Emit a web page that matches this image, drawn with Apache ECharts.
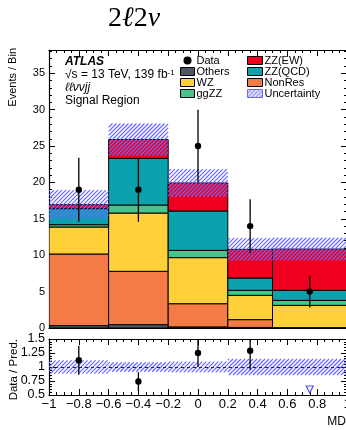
<!DOCTYPE html>
<html>
<head>
<meta charset="utf-8">
<script src="https://cdn.jsdelivr.net/npm/echarts@6/dist/echarts.min.js"></script>
<style>
  html, body { margin: 0; padding: 0; background: #fff; }
  #chart { width: 346px; height: 430px; }
</style>
</head>
<body>
<div id="chart"></div>
<script>
// Bin edges of the MD distribution
const binEdges = [-1, -0.6, -0.2, 0.2, 0.5, 1];

// Expected yields per bin, stacked bottom to top
const others  = [0.33, 0.46, 0.15, 0.08, 0.05];
const nonRes  = [9.84, 7.33, 3.19, 1.07, 0.00];
const wz      = [3.71, 8.01, 6.33, 3.34, 3.06];
const ggZZ    = [0.32, 1.10, 1.00, 0.69, 0.69];
const zzQCD   = [2.20, 6.40, 5.41, 1.69, 1.38];
const zzEW    = [0.55, 2.60, 3.85, 3.94, 5.67];

// Total prediction uncertainty (absolute, per bin)
const predUnc = [2.0, 2.2, 1.9, 1.55, 1.55];

// Observed data and its error
const dataCounts = [19, 19, 25, 14, 5];
const dataErr    = [4.4, 4.4, 5.0, 3.7, 2.2];

// Ratio panel: data / prediction, its error and the relative uncertainty band
const ratioVals = [1.12, 0.74, 1.25, 1.29, 0.46];
const ratioErr  = [0.26, 0.17, 0.25, 0.34, 0.20];
const ratioUnc  = [0.118, 0.085, 0.095, 0.143, 0.143];

const mainYMax = 38.2;
const ratioMin = 0.5, ratioMax = 1.5;

const SANS = "'Liberation Sans', Arial, Helvetica, sans-serif";
const SERIF = "'Liberation Serif', 'DejaVu Serif', 'Times New Roman', serif";
const HATCH_COLOR = '#6868ff';

// Small hatch tile, used for the legend swatch
function hatchPattern(color) {
  const s = 4;
  const c = document.createElement('canvas');
  c.width = s; c.height = s;
  const g = c.getContext('2d');
  g.strokeStyle = color;
  g.lineWidth = 1.2;
  g.beginPath();
  g.moveTo(0, s); g.lineTo(s, 0);
  g.moveTo(-1, 1); g.lineTo(1, -1);
  g.moveTo(s - 1, s + 1); g.lineTo(s + 1, s - 1);
  g.stroke();
  return { image: c, repeat: 'repeat' };
}
const hatchFill = hatchPattern(HATCH_COLOR);

const components = [
  { name: 'Others',  values: others, color: '#4f5567' },
  { name: 'NonRes',  values: nonRes, color: '#f47b45' },
  { name: 'WZ',      values: wz,     color: '#fed03a' },
  { name: 'ggZZ',    values: ggZZ,   color: '#46c48a' },
  { name: 'ZZ(QCD)', values: zzQCD,  color: '#0aa3ad' },
  { name: 'ZZ(EW)',  values: zzEW,   color: '#f0001e' }
];

// Filled bin rectangle: data item = [xLow, xHigh, yLow, yHigh]
function rectItem(fill, stroke, lw) {
  return function (params, api) {
    const p0 = api.coord([api.value(0), api.value(3)]);
    const p1 = api.coord([api.value(1), api.value(2)]);
    return {
      type: 'rect',
      shape: { x: p0[0], y: p0[1], width: p1[0] - p0[0], height: p1[1] - p0[1] },
      style: { fill: fill, stroke: stroke, lineWidth: lw }
    };
  };
}

// Hatched bin rectangle (diagonal "///" lines on a common grid), one path per bin
function hatchItem(color, step, lw) {
  return function (params, api) {
    const p0 = api.coord([api.value(0), api.value(3)]);
    const p1 = api.coord([api.value(1), api.value(2)]);
    const x0 = p0[0], y0 = p0[1], x1 = p1[0], y1 = p1[1];
    let d = '';
    for (let k = Math.ceil((x0 + y0) / step) * step; k <= x1 + y1; k += step) {
      const xa = Math.max(x0, k - y1), xb = Math.min(x1, k - y0);
      if (xb <= xa) continue;
      d += 'M' + xa.toFixed(2) + ',' + (k - xa).toFixed(2) + 'L' + xb.toFixed(2) + ',' + (k - xb).toFixed(2);
    }
    return {
      type: 'path',
      shape: { pathData: d || 'M0,0', layout: 'none' },
      style: { fill: 'none', stroke: color, lineWidth: lw, opacity: 1 }
    };
  };
}

// Stacked histogram
const totals = binEdges.slice(1).map(() => 0);
const stackSeries = components.map(comp => {
  const data = comp.values.map((v, i) => {
    const lo = totals[i];
    totals[i] += v;
    return [binEdges[i], binEdges[i + 1], lo, totals[i]];
  });
  return {
    type: 'custom', name: comp.name, xAxisIndex: 0, yAxisIndex: 0,
    clip: true, z: 2, encode: { x: [0, 1], y: [2, 3] },
    itemStyle: { color: comp.color },
    data: data, renderItem: rectItem(comp.color, '#000', 1)
  };
});

const centers = binEdges.slice(1).map((e, i) => (binEdges[i] + e) / 2);

const uncBand = totals.map((t, i) => [binEdges[i], binEdges[i + 1], t - predUnc[i], t + predUnc[i]]);
const ratioBand = ratioUnc.map((u, i) => [binEdges[i], binEdges[i + 1], 1 - u, 1 + u]);

// Data point with vertical error bar; below-range ratios become an open arrow
function pointItem(minVal) {
  return function (params, api) {
    const x = api.value(0), v = api.value(1), e = api.value(2);
    if (minVal !== null && v < minVal) {
      const b = api.coord([x, minVal]);
      return {
        type: 'polygon',
        shape: { points: [[b[0] - 3.5, b[1] - 9], [b[0] + 3.5, b[1] - 9], [b[0], b[1] - 2]] },
        style: { fill: '#fff', stroke: '#4d4dff', lineWidth: 1.2 }
      };
    }
    const c = api.coord([x, v]);
    const t = api.coord([x, v + e]);
    const b = api.coord([x, v - e]);
    return {
      type: 'group',
      children: [
        { type: 'line', shape: { x1: c[0], y1: t[1], x2: c[0], y2: b[1] }, style: { stroke: '#000', lineWidth: 1.3 } },
        { type: 'circle', shape: { cx: c[0], cy: c[1], r: 3.2 }, style: { fill: '#000' } }
      ]
    };
  };
}

function fmtX(v) {
  return String(+v.toFixed(2)).replace('-', '\u2212');
}

function xAxisDef(grid, pos, labels) {
  return {
    type: 'value', gridIndex: grid, position: pos, min: -1, max: 1, interval: 0.2,
    axisLine: { show: true, onZero: false, lineStyle: { color: '#000', width: 1.2 } },
    axisTick: { show: true, inside: true, length: 6, lineStyle: { color: '#000', width: 1 } },
    minorTick: { show: true, splitNumber: 4, length: 3, lineStyle: { color: '#000', width: 1 } },
    splitLine: { show: false }, minorSplitLine: { show: false },
    axisLabel: labels ? {
      show: true, color: '#000', fontFamily: SANS, fontSize: 13, margin: 3,
      showMinLabel: true, showMaxLabel: true, formatter: fmtX
    } : { show: false }
  };
}

function yAxisDef(grid, pos, min, max, interval, minorSplit, labelCfg) {
  return {
    type: 'value', gridIndex: grid, position: pos, min: min, max: max, interval: interval,
    axisLine: { show: true, onZero: false, lineStyle: { color: '#000', width: 1.2 } },
    axisTick: { show: true, inside: true, length: 6, lineStyle: { color: '#000', width: 1 } },
    minorTick: { show: true, splitNumber: minorSplit, length: 3, lineStyle: { color: '#000', width: 1 } },
    splitLine: { show: false }, minorSplitLine: { show: false },
    axisLabel: labelCfg || { show: false }
  };
}

const legendText = { fontFamily: SANS, fontSize: 11, color: '#000', lineHeight: 10.3, padding: [0, 0, 0, -3] };
function boxItem(name, fill, border) {
  return { name: name, icon: 'rect', itemStyle: { color: fill, borderColor: border || '#000', borderWidth: 1 } };
}

const option = {
  animation: false,
  backgroundColor: '#fff',
  title: {
    left: 108, top: 5, padding: 0,
    text: '{n|2}{i|\u2113}{n|2}{i|\u03bd}',
    textStyle: {
      fontWeight: 'normal',
      lineHeight: 28,
      rich: {
        n: { fontFamily: SERIF, fontSize: 28, fontWeight: 'normal', fontStyle: 'normal', color: '#000', lineHeight: 28 },
        i: { fontFamily: SERIF, fontSize: 28, fontWeight: 'normal', fontStyle: 'italic', color: '#000', lineHeight: 28 }
      }
    }
  },
  grid: [
    { left: 49, top: 50, width: 298, height: 278, containLabel: false, outerBoundsMode: 'none' },
    { left: 49, top: 339, width: 298, height: 56, containLabel: false, outerBoundsMode: 'none' }
  ],
  legend: [
    {
      left: 180, top: 55, padding: 0, orient: 'vertical', itemWidth: 14, itemHeight: 8, itemGap: 0,
      selectedMode: false, textStyle: legendText,
      data: [
        { name: 'Data', icon: 'circle', itemStyle: { color: '#000', borderWidth: 0 } },
        boxItem('Others', '#4f5567'),
        boxItem('WZ', '#fed03a'),
        boxItem('ggZZ', '#46c48a')
      ]
    },
    {
      left: 247, top: 55, padding: 0, orient: 'vertical', itemWidth: 15, itemHeight: 8, itemGap: 0,
      selectedMode: false, textStyle: legendText,
      data: [
        boxItem('ZZ(EW)', '#f0001e'),
        boxItem('ZZ(QCD)', '#0aa3ad'),
        boxItem('NonRes', '#f47b45'),
        boxItem('Uncertainty', hatchFill, HATCH_COLOR)
      ]
    }
  ],
  xAxis: [
    xAxisDef(0, 'bottom', false),
    xAxisDef(0, 'top', false),
    Object.assign(xAxisDef(1, 'bottom', true), {
      name: 'MD', nameLocation: 'end', nameGap: -1,
      nameTextStyle: { fontFamily: SANS, fontSize: 12, color: '#000', align: 'right', verticalAlign: 'top', padding: [21, 0, 0, 0] }
    }),
    xAxisDef(1, 'top', false)
  ],
  yAxis: [
    yAxisDef(0, 'left', 0, mainYMax, 5, 5, {
      show: true, color: '#000', fontFamily: SANS, fontSize: 11, margin: 4,
      formatter: v => (Math.abs(v % 5) < 1e-6 ? String(v) : '')
    }),
    yAxisDef(0, 'right', 0, mainYMax, 5, 5, null),
    yAxisDef(1, 'left', ratioMin, ratioMax, 0.25, 5, {
      show: true, color: '#000', fontFamily: SANS, fontSize: 12.5, margin: 4,
      showMinLabel: true, showMaxLabel: true, formatter: v => String(v)
    }),
    yAxisDef(1, 'right', ratioMin, ratioMax, 0.25, 5, null)
  ],
  graphic: [
    { type: 'text', x: 13, y: 48, rotation: Math.PI / 2,
      style: { text: 'Events / Bin', fontFamily: SANS, fontSize: 11, fill: '#000', align: 'right', verticalAlign: 'middle' } },
    { type: 'text', x: 14, y: 339, rotation: Math.PI / 2,
      style: { text: 'Data / Pred.', fontFamily: SANS, fontSize: 11.5, fill: '#000', align: 'right', verticalAlign: 'middle' } },
    { type: 'text', x: 65, y: 62,
      style: { text: 'ATLAS', fontFamily: SANS, fontSize: 12, fontWeight: 'bold', fontStyle: 'italic', fill: '#000', verticalAlign: 'middle' } },
    { type: 'text', x: 65, y: 75,
      style: {
        text: '\u221As = 13 TeV, 139 fb{sup|-1}', fontFamily: SANS, fontSize: 12, fill: '#000', verticalAlign: 'middle',
        rich: { sup: { fontFamily: SANS, fontSize: 8, fill: '#000', verticalAlign: 'top' } }
      } },
    { type: 'text', x: 65, y: 87.5,
      style: { text: '\u2113\u2113\u03bd\u03bdjj', fontFamily: SANS, fontSize: 12, fontStyle: 'italic', fill: '#000', verticalAlign: 'middle' } },
    { type: 'text', x: 65, y: 100.5,
      style: { text: 'Signal Region', fontFamily: SANS, fontSize: 12, fill: '#000', verticalAlign: 'middle' } }
  ],
  series: stackSeries.concat([
    {
      type: 'custom', name: 'Uncertainty', xAxisIndex: 0, yAxisIndex: 0, clip: true, z: 3,
      encode: { x: [0, 1], y: [2, 3] }, itemStyle: { color: HATCH_COLOR },
      data: uncBand, renderItem: hatchItem(HATCH_COLOR, 4, 1.2)
    },
    {
      type: 'custom', name: 'Data', xAxisIndex: 0, yAxisIndex: 0, clip: true, z: 4,
      encode: { x: 0, y: 1 }, itemStyle: { color: '#000' },
      data: centers.map((c, i) => [c, dataCounts[i], dataErr[i]]),
      renderItem: pointItem(null)
    },
    {
      type: 'custom', name: 'Ratio uncertainty', xAxisIndex: 2, yAxisIndex: 2, clip: true, z: 3,
      encode: { x: [0, 1], y: [2, 3] }, itemStyle: { color: HATCH_COLOR },
      data: ratioBand, renderItem: hatchItem(HATCH_COLOR, 4, 1.2),
      markLine: {
        silent: true, symbol: 'none', label: { show: false },
        lineStyle: { color: '#222', type: [3, 3], width: 1 },
        data: [{ yAxis: 1 }]
      }
    },
    {
      type: 'custom', name: 'Data / Pred.', xAxisIndex: 2, yAxisIndex: 2, clip: true, z: 4,
      encode: { x: 0, y: 1 }, itemStyle: { color: '#000' },
      data: centers.map((c, i) => [c, ratioVals[i], ratioErr[i]]),
      renderItem: pointItem(ratioMin)
    }
  ])
};

const chart = echarts.init(document.getElementById('chart'), null, { renderer: 'canvas' });
chart.setOption(option);
</script>
</body>
</html>
